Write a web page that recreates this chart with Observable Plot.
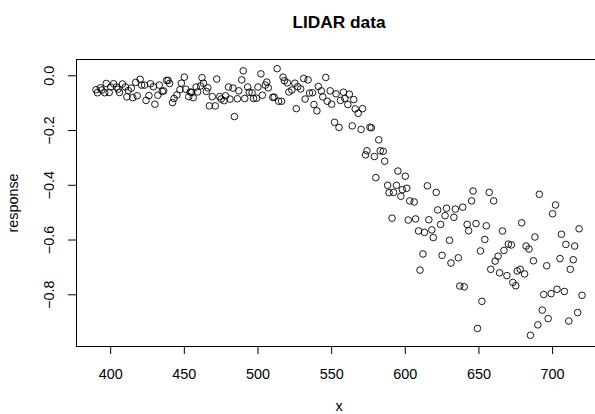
<!DOCTYPE html>
<html>
<head>
<meta charset="utf-8">
<script src="https://cdn.jsdelivr.net/npm/d3@7"></script>
<script src="https://cdn.jsdelivr.net/npm/@observablehq/plot@0.6"></script>
<style>
  html, body { margin: 0; padding: 0; background: #fff; overflow: hidden; }
</style>
</head>
<body>
<div id="chart"></div>
<script>
const title = "LIDAR data";
const xLabel = "x";
const yLabel = "response";
const xTicks = [400, 450, 500, 550, 600, 650, 700];
const xTickLabels = ["400", "450", "500", "550", "600", "650", "700"];
const yTicks = [0, -0.2, -0.4, -0.6, -0.8];
const yTickLabels = ["0.0", "\u22120.2", "\u22120.4", "\u22120.6", "\u22120.8"];

const xs = [
  390,391,393,394,396,397,399,400,402,404,
  405,406,408,410,411,412,414,415,417,418,
  420,421,423,424,426,427,429,430,432,433,
  435,436,438,439,440,442,443,445,447,448,
  450,451,453,454,455,456,458,459,461,462,
  463,465,466,467,469,471,472,474,475,477,
  478,480,481,483,484,486,487,489,490,491,
  493,494,496,497,499,500,502,503,505,506,
  507,510,511,513,514,516,517,518,520,521,
  523,525,526,527,529,531,532,534,535,537,
  538,540,541,543,544,546,547,549,550,
  552,553,555,556,558,559,561,562,564,565,
  566,568,570,571,573,574,576,577,579,580,
  582,583,585,586,588,589,591,592,594,595,
  597,598,600,601,
  602,603,606,607,609,610,612,613,615,616,
  618,619,621,622,624,625,627,628,630,631,
  633,634,636,637,639,640,642,643,645,646,
  648,649,
  651,652,654,655,657,658,660,661,663,664,
  666,667,669,670,672,673,675,676,678,679,
  681,682,684,685,687,688,690,691,693,694,
  696,697,699,700,702,703,705,706,708,709,
  711,712,714,715,717,718,720
];
const ys = [
  -0.051,-0.062,-0.044,-0.052,-0.062,-0.028,-0.061,-0.041,-0.029,-0.041,
  -0.049,-0.061,-0.030,-0.041,-0.077,-0.054,-0.045,-0.080,-0.024,-0.073,
  -0.013,-0.034,-0.034,-0.090,-0.072,-0.029,-0.040,-0.104,-0.071,-0.034,
  -0.057,-0.055,-0.017,-0.017,-0.028,-0.098,-0.083,-0.070,-0.051,-0.027,
  -0.005,-0.049,-0.076,-0.059,-0.061,-0.080,-0.041,-0.059,-0.037,-0.007,
  -0.027,-0.057,-0.044,-0.110,-0.076,-0.110,-0.012,-0.076,-0.085,-0.091,
  -0.073,-0.041,-0.085,-0.045,-0.149,-0.084,-0.055,-0.015,0.018,-0.083,
  -0.041,-0.060,-0.062,-0.083,-0.082,-0.041,0.007,-0.071,-0.034,-0.023,
  -0.044,-0.079,-0.078,0.026,-0.093,-0.093,-0.005,-0.018,-0.026,-0.059,
  -0.052,-0.027,-0.120,-0.040,-0.048,-0.010,-0.085,-0.015,-0.063,-0.062,
  -0.105,-0.128,-0.039,-0.055,-0.077,-0.006,-0.093,-0.055,-0.104,
  -0.170,-0.066,-0.189,-0.090,-0.060,-0.083,-0.105,-0.067,-0.183,-0.087,
  -0.121,-0.137,-0.196,-0.120,-0.289,-0.274,-0.188,-0.190,-0.295,-0.372,
  -0.234,-0.274,-0.276,-0.312,-0.400,-0.427,-0.520,-0.426,-0.400,-0.348,
  -0.440,-0.416,-0.367,-0.411,
  -0.527,-0.457,-0.461,-0.523,-0.567,-0.710,-0.651,-0.572,-0.402,-0.526,
  -0.563,-0.591,-0.426,-0.490,-0.543,-0.656,-0.511,-0.484,-0.601,-0.684,
  -0.517,-0.487,-0.665,-0.768,-0.480,-0.771,-0.543,-0.566,-0.457,-0.421,
  -0.540,-0.923,
  -0.640,-0.824,-0.598,-0.548,-0.426,-0.707,-0.457,-0.677,-0.659,-0.720,
  -0.567,-0.638,-0.730,-0.615,-0.618,-0.755,-0.767,-0.713,-0.707,-0.537,
  -0.724,-0.622,-0.633,-0.948,-0.676,-0.589,-0.910,-0.433,-0.856,-0.799,
  -0.694,-0.887,-0.796,-0.504,-0.472,-0.780,-0.668,-0.579,-0.788,-0.616,
  -0.896,-0.707,-0.672,-0.622,-0.865,-0.559,-0.802
];

const data = xs.map((x, i) => ({x, y: ys[i]}));
const font = "'Liberation Sans', Arial, Helvetica, sans-serif";
const fs = 14.4;

const chart = Plot.plot({
  width: 595,
  height: 414,
  marginLeft: 76,
  marginRight: -6,
  marginTop: 59,
  marginBottom: 68,
  style: {fontFamily: font, fontSize: fs + "px", background: "#fff", color: "#000"},
  x: {domain: [376.8, 733.2], label: null},
  y: {domain: [-0.989, 0.0595], label: null},
  marks: [
    Plot.frame({stroke: "#000", strokeWidth: 1}),
    Plot.dot(data, {x: "x", y: "y", r: 3.3, stroke: "#000", strokeWidth: 0.9, fill: "none"}),
    Plot.axisX({ticks: xTicks, tickSize: 8, tickPadding: 14, tickFormat: (d) => xTickLabels[xTicks.indexOf(d)], fontSize: fs, label: null}),
    Plot.axisY({ticks: yTicks, tickSize: 8, tickFormat: () => "", label: null}),
    Plot.text(yTicks, {y: d => d, text: (d, i) => yTickLabels[i], frameAnchor: "left", dx: -27, rotate: -90, textAnchor: "middle", lineAnchor: "middle", fontSize: fs}),
    Plot.text([title], {text: d => d, frameAnchor: "top", dy: -37, lineAnchor: "middle", textAnchor: "middle", fontWeight: "bold", fontSize: 17.3}),
    Plot.text([xLabel], {text: d => d, frameAnchor: "bottom", dy: 59.5, lineAnchor: "middle", textAnchor: "middle", fontSize: fs}),
    Plot.text([yLabel], {text: d => d, frameAnchor: "left", dx: -63, rotate: -90, lineAnchor: "middle", textAnchor: "middle", fontSize: fs})
  ]
});
document.getElementById("chart").appendChild(chart);
</script>
</body>
</html>
